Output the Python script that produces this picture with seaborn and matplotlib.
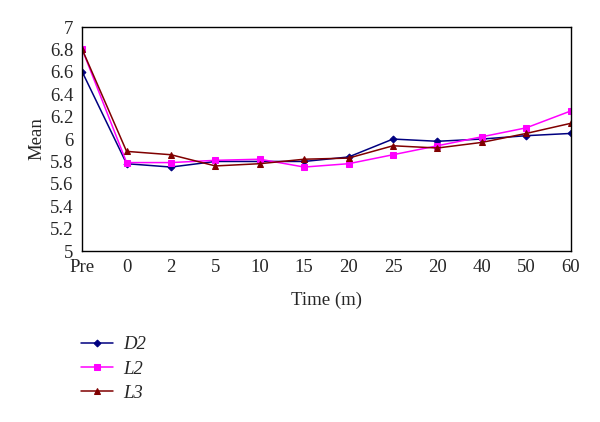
import numpy as np
import matplotlib
matplotlib.use("Agg")
import matplotlib.pyplot as plt
import seaborn as sns
from matplotlib.ticker import FixedLocator, FormatStrFormatter

# Data
time_labels = ["Pre", "0", "2", "5", "10", "15", "20", "25", "20", "40", "50", "60"]
d2 = [6.60, 5.78, 5.75, 5.80, 5.80, 5.80, 5.84, 6.00, 5.98, 6.00, 6.03, 6.05]
l2 = [6.80, 5.79, 5.79, 5.81, 5.82, 5.75, 5.78, 5.86, 5.94, 6.02, 6.10, 6.25]
l3 = [6.80, 5.89, 5.86, 5.76, 5.78, 5.82, 5.83, 5.94, 5.92, 5.97, 6.05, 6.14]

sns.set_style("white")
plt.rcParams['font.family'] = ['Liberation Serif', 'DejaVu Serif']
fs = 13.5

fig = plt.figure(figsize=(6, 4.22), dpi=100)
ax = fig.add_axes([0.137, 0.405, 0.814, 0.531])

pos = np.arange(len(time_labels))
series = [("D2", d2, "#000080", "D", 3.5),
          ("L2", l2, "#FF00FF", "s", 4.5),
          ("L3", l3, "#800000", "^", 5)]
for name, vals, col, mk, ms in series:
    sns.lineplot(x=pos, y=vals, ax=ax, color=col, marker=mk, markersize=ms,
                 markeredgecolor=col, linewidth=1.1, label=name)

ax.set_xlim(0, len(time_labels) - 1)
ax.set_ylim(5, 7)
ax.set_xticks(pos)
ax.set_xticklabels(time_labels, fontsize=fs)
ax.xaxis.set_minor_locator(FixedLocator(pos[:-1] + 0.5))
ax.tick_params(axis='x', which='major', length=0, pad=6)
ax.tick_params(axis='x', which='minor', direction='in', length=4, width=1, color='black')
ax.set_yticks(np.arange(5, 7.01, 0.2))
ax.yaxis.set_major_formatter(FormatStrFormatter('%g'))
ax.tick_params(axis='y', length=0, labelsize=fs, pad=6.5)

for s in ax.spines.values():
    s.set_color('black')
    s.set_linewidth(1)

ax.set_xlabel("Time (m)", fontsize=fs, labelpad=11)
ax.set_ylabel("Mean", fontsize=fs, labelpad=3)

leg = ax.legend(loc='upper left', bbox_to_anchor=(0.135, 0.203), bbox_transform=fig.transFigure,
                frameon=False, fontsize=fs, handlelength=1.7, handletextpad=0.55,
                labelspacing=0.38, borderpad=0, borderaxespad=0)
for t in leg.get_texts():
    t.set_fontstyle('italic')

fig.savefig("out.png", dpi=100)
